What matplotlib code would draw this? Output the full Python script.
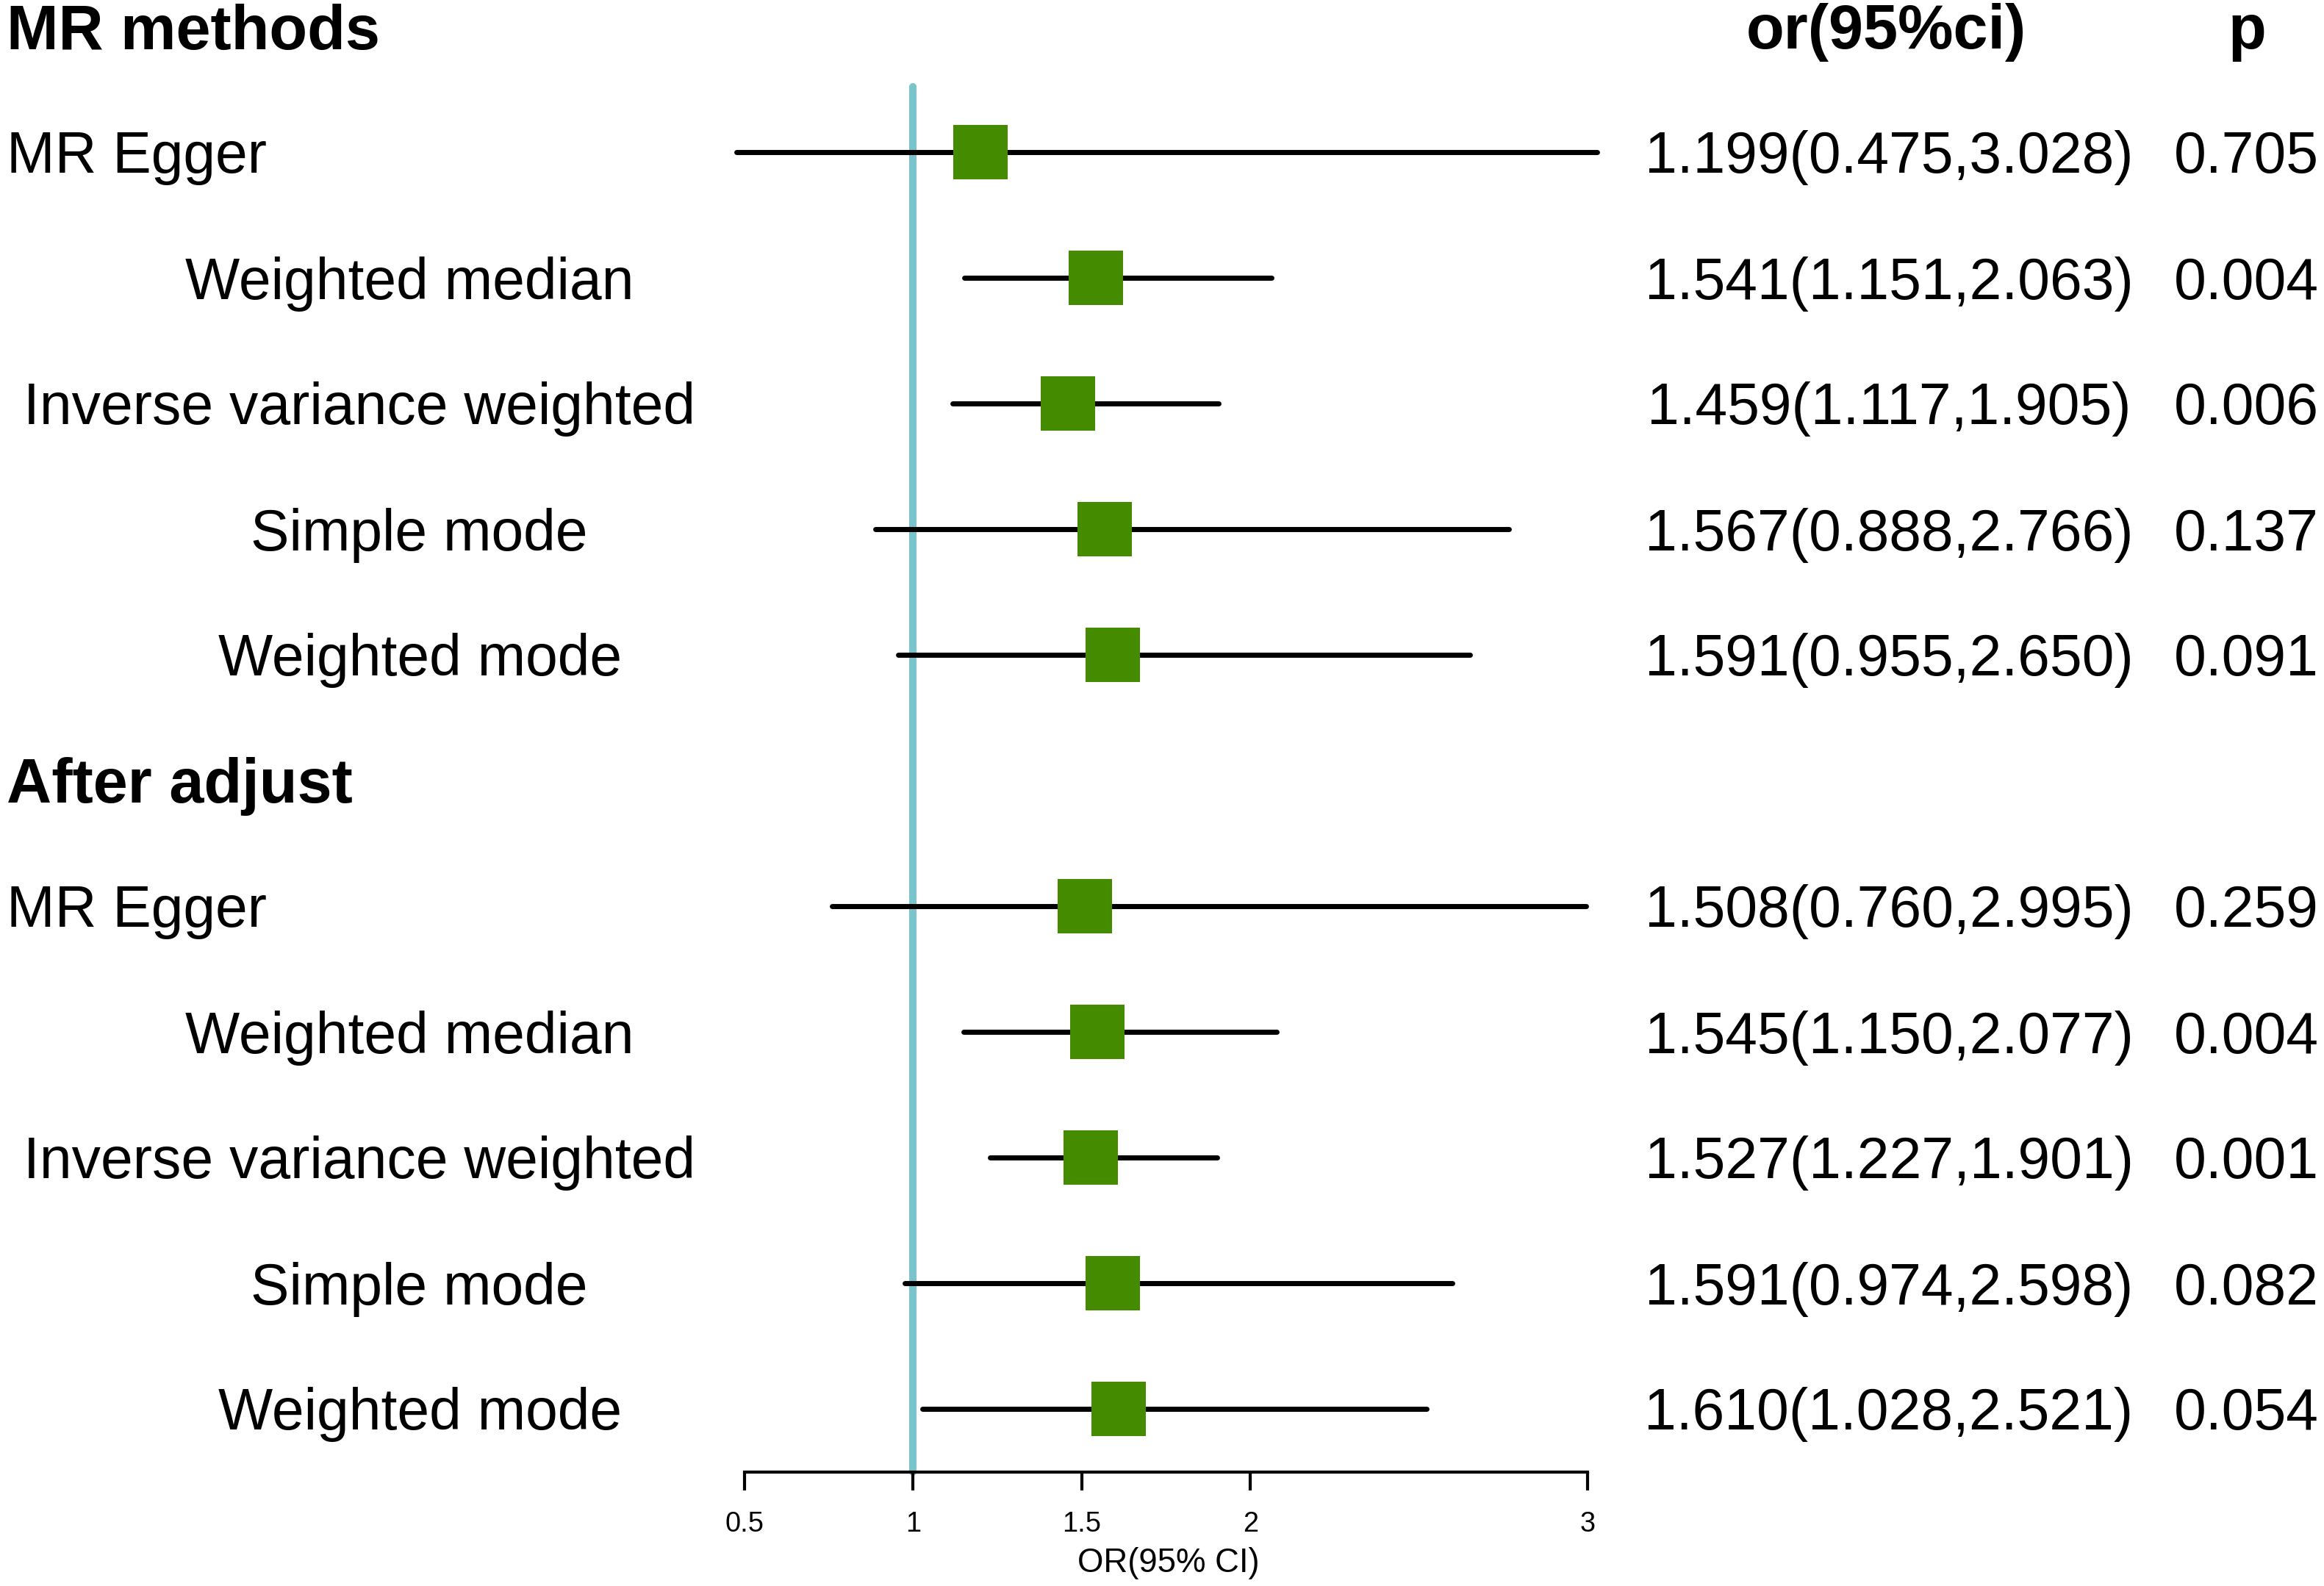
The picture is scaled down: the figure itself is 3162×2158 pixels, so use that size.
import numpy as np
import matplotlib
matplotlib.use("Agg")
import matplotlib.pyplot as plt

plt.rcParams['font.family'] = ['Liberation Sans', 'DejaVu Sans']

# data
groups = ["MR methods", "After adjust"]
methods = ["MR Egger", "Weighted median", "Inverse variance weighted",
           "Simple mode", "Weighted mode"]

or_main = [1.199, 1.541, 1.459, 1.567, 1.591]
lo_main = [0.475, 1.151, 1.117, 0.888, 0.955]
hi_main = [3.028, 2.063, 1.905, 2.766, 2.650]
p_main = ["0.705", "0.004", "0.006", "0.137", "0.091"]

or_adj = [1.508, 1.545, 1.527, 1.591, 1.610]
lo_adj = [0.760, 1.150, 1.227, 0.974, 1.028]
hi_adj = [2.995, 2.077, 1.901, 2.598, 2.521]
p_adj = ["0.259", "0.004", "0.001", "0.082", "0.054"]

xticks = [0.5, 1, 1.5, 2, 3]
xtick_labels = ["0.5", "1", "1.5", "2", "3"]

# layout (pixels of the 3162x2158 picture)
W, H = 3162, 2158
label_px = [9, 252, 32, 341, 297]
row_h = 171
row0 = 36          # pixel centre of row 0
x0_px, unit_px = 1013, 459   # pixel of x=0.5, pixels per 1 unit
or_col_px, p_col_px = 2570, 3056
BLUE = "#7AC5CD"
GREEN = "#458B00"

fig = plt.figure(figsize=(W / 200, H / 200), dpi=200)
ax = fig.add_axes([0, 0, 1, 1])
ax.set_xlim(0.5 - x0_px / unit_px, 0.5 + (W - x0_px) / unit_px)
ax.set_ylim((H - row0) / row_h, -row0 / row_h)


def fy(r, off=0.0):
    # figure fraction for row r (+ pixel offset downward)
    return 1 - (row0 + r * row_h + off) / H


# reference line at OR = 1
axis_row = (2003 - row0) / row_h
ax.plot([1, 1], [(118 - row0) / row_h, axis_row], color=BLUE, lw=3.6,
        solid_capstyle='round', zorder=1)

# header
fig.text(9 / W, fy(0, 30.5), groups[0], fontsize=30.5, fontweight='bold',
         ha='left', va='baseline')
fig.text(2566 / W, fy(0, 30.5), "or(95%ci)", fontsize=30.5, fontweight='bold',
         ha='center', va='baseline')
fig.text(3057 / W, fy(0, 30.5), "p", fontsize=30.5, fontweight='bold',
         ha='center', va='baseline')
fig.text(9 / W, fy(6, 30.5), groups[1], fontsize=30.5, fontweight='bold',
         ha='left', va='baseline')

blocks = [(1, or_main, lo_main, hi_main, p_main),
          (7, or_adj, lo_adj, hi_adj, p_adj)]
for start, ors, los, his, ps in blocks:
    rows = np.arange(start, start + len(methods))
    for i, r in enumerate(rows):
        ax.plot([los[i], his[i]], [r, r], color='black', lw=2.5,
                solid_capstyle='round', zorder=2)
        ax.plot(ors[i], r, marker='s', markersize=26.3, color=GREEN,
                markeredgewidth=0, zorder=3)
        fig.text(label_px[i] / W, fy(r, 28.5), methods[i], fontsize=28.3,
                 ha='left', va='baseline')
        txt = "%.3f(%.3f,%.3f)" % (ors[i], los[i], his[i])
        fig.text(or_col_px / W, fy(r, 28.5), txt, fontsize=28.3,
                 ha='center', va='baseline')
        fig.text(p_col_px / W, fy(r, 28.5), ps[i], fontsize=28.3,
                 ha='center', va='baseline')

# x axis
for s in ['top', 'right', 'left']:
    ax.spines[s].set_visible(False)
ax.spines['bottom'].set_position(('data', axis_row))
ax.spines['bottom'].set_bounds(0.5, 3)
ax.spines['bottom'].set_linewidth(1.5)
ax.set_xticks(xticks)
ax.set_xticklabels(xtick_labels, fontsize=13.7)
ax.tick_params(axis='x', length=9, width=1.5, pad=10)
ax.set_yticks([])
ax.patch.set_alpha(0)
fig.text(1590 / W, 1 - 2127 / H, "OR(95% CI)", fontsize=16.4,
         ha='center', va='center')

fig.savefig("out.png", dpi=200)
